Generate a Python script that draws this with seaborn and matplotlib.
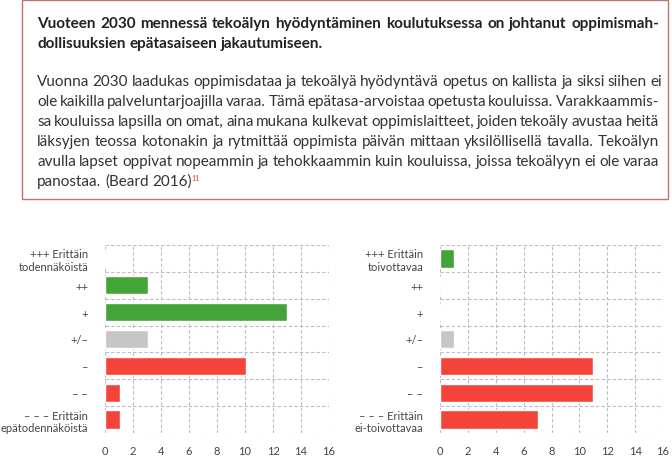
import numpy as np
import pandas as pd
import matplotlib
matplotlib.use("Agg")
import matplotlib.pyplot as plt
import matplotlib.patches as patches
import seaborn as sns

# Scenario card: text box on top, two horizontal bar charts below

W, H = 672, 460

title_lines = [
    "Vuoteen 2030 mennessä tekoälyn hyödyntäminen koulutuksessa on johtanut oppimismah-",
    "dollisuuksien epätasaiseen jakautumiseen.",
]
body_lines = [
    "Vuonna 2030 laadukas oppimisdataa ja tekoälyä hyödyntävä opetus on kallista ja siksi siihen ei",
    "ole kaikilla palveluntarjoajilla varaa. Tämä epätasa-arvoistaa opetusta kouluissa. Varakkaammis-",
    "sa kouluissa lapsilla on omat, aina mukana kulkevat oppimislaitteet, joiden tekoäly avustaa heitä",
    "läksyjen teossa kotonakin ja rytmittää oppimista päivän mittaan yksilöllisellä tavalla. Tekoälyn",
    "avulla lapset oppivat nopeammin ja tehokkaammin kuin kouluissa, joissa tekoälyyn ei ole varaa",
    "panostaa. (Beard 2016)",
]
footnote = "11"

left_labels = ["+++ Erittäin\ntodennäköistä", "++", "+", "+/–", "–", "– –",
               "– – – Erittäin\nepätodennäköistä"]
left_values = [0, 3.1, 13, 3.1, 10.1, 1.1, 1.1]

right_labels = ["+++ Erittäin\ntoivottavaa", "++", "+", "+/–", "–", "– –",
                "– – – Erittäin\nei-toivottavaa"]
right_values = [1, 0, 0, 1, 11, 11, 7]

GREEN = "#43a437"
GREY = "#c6c6c6"
RED = "#f4443a"
bar_colors = [GREEN, GREEN, GREEN, GREY, RED, RED, RED]

x_ticks = list(range(0, 17, 2))

sns.set_theme(style="white")
plt.rcParams["font.family"] = ["Lato", "DejaVu Sans"]

fig = plt.figure(figsize=(W / 100, H / 100), dpi=100)
renderer = fig.canvas.get_renderer()


def fx(px):
    return px / W


def fy(py):
    return 1 - py / H


def put_line(text, x0, x1, y, justify, **kw):
    words = text.split(" ")
    objs = [fig.text(fx(x0), fy(y), w, va="baseline", ha="left", **kw) for w in words]
    widths = [o.get_window_extent(renderer).width for o in objs]
    if justify and len(words) > 1:
        gap = (x1 - x0 - sum(widths)) / (len(words) - 1)
    else:
        a = fig.text(0, 0, "a a", **kw)
        b = fig.text(0, 0, "aa", **kw)
        gap = a.get_window_extent(renderer).width - b.get_window_extent(renderer).width
        a.remove()
        b.remove()
    x = x0
    for o, w in zip(objs, widths):
        o.set_x(fx(x))
        x += w + gap
    return x - gap


# box
fig.patches.append(patches.Rectangle((fx(22), fy(200)), fx(646), (200 - 0.5) / H,
                                     transform=fig.transFigure, fill=False,
                                     edgecolor="#c0746c", linewidth=1.0))

X0, X1 = 37, 659
for i, line in enumerate(title_lines):
    put_line(line, X0, X1, 28 + 20 * i, i < len(title_lines) - 1,
             fontsize=11, fontweight="bold", color="#222222")

for i, line in enumerate(body_lines):
    end = put_line(line, X0, 662 if i == 0 else X1, 86 + 20 * i, i < len(body_lines) - 1,
                   fontsize=11, color="#333333")
fig.text(fx(end - 1), fy(181), footnote, fontsize=5, color="#e03c31", va="baseline")


def draw_bars(ax, labels, values):
    df = pd.DataFrame({"label": labels, "value": values})
    sns.barplot(data=df, x="value", y="label", hue="label", order=labels,
                hue_order=labels, palette=bar_colors, orient="h", width=0.68,
                legend=False, ax=ax, saturation=1)
    ax.set_xlim(0, 16)
    ax.set_ylim(6.5, -0.5)
    ax.set_xticks(x_ticks)
    ax.set_yticks(np.arange(-0.5, 7, 1), minor=True)
    ax.set_axisbelow(True)
    ax.grid(which="major", axis="x", color="#bdbdbd", linestyle=(0, (3, 2)), linewidth=0.8)
    ax.grid(which="minor", axis="y", color="#bdbdbd", linestyle=(0, (3, 2)), linewidth=0.8)
    ax.grid(which="major", axis="y", visible=False)
    for sp in ax.spines.values():
        sp.set_visible(False)
    ax.tick_params(axis="both", which="both", length=0)
    ax.tick_params(axis="x", pad=9, labelsize=8, labelcolor="#444444")
    ax.tick_params(axis="y", pad=12, labelsize=8, labelcolor="#444444")
    ax.set_xlabel("")
    ax.set_ylabel("")


ax1 = fig.add_axes([fx(105), 1 - 434 / H, fx(224), 188 / H])
draw_bars(ax1, left_labels, left_values)

ax2 = fig.add_axes([fx(440), 1 - 434 / H, fx(223), 188 / H])
draw_bars(ax2, right_labels, right_values)

fig.savefig("out.png", dpi=100)
